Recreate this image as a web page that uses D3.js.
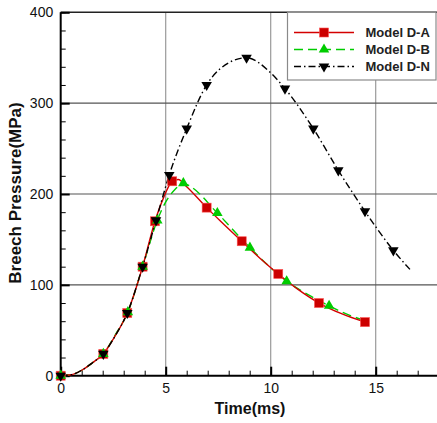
<!DOCTYPE html>
<html>
<head>
<meta charset="utf-8">
<script src="https://cdn.jsdelivr.net/npm/d3@7"></script>
<style>
  body { margin: 0; background: #fff; }
  svg { display: block; font-family: "Liberation Sans", Arial, sans-serif; }
</style>
</head>
<body>
<svg id="chart" width="437" height="423"></svg>
<script>
// Breech pressure histories for three models: [time (ms), pressure (MPa)]
const curveDA = [[0,0],[0.5,1],[1,6],[1.5,14],[2.03,24],[2.6,44],[3.17,69],[3.9,120],[4.49,170],[4.9,196],[5.31,214],[5.6,216],[6.0,208],[6.95,185],[7.8,166],[8.62,148],[9.5,129],[10.36,112],[11.3,95],[12.3,80],[13.4,68],[14.49,59]];
const curveDB = [[0,0],[0.5,1],[1,6],[1.5,14],[2.03,24],[2.6,45],[3.2,70],[3.9,120],[4.6,171],[4.97,190],[5.44,205],[5.84,212],[6.2,208],[7.46,179],[9.01,141],[10.76,104],[11.8,89],[12.78,77],[13.6,68],[14.44,61]];
const curveDN = [[0,0],[0.5,1],[1,6],[1.5,14],[2.03,24],[2.6,44],[3.17,69],[3.9,120],[4.54,171],[5.17,221],[6.0,272],[6.95,320],[7.6,338],[8.85,350],[9.97,334],[10.68,316],[12.03,272],[13.22,226],[14.49,181],[15.84,138],[16.63,117]];

// Symbol positions along each curve
const markDA = [[0,0],[2.03,24],[3.17,69],[3.9,120],[4.49,170],[5.31,214],[6.95,185],[8.62,148],[10.36,112],[12.3,80],[14.49,59]];
const markDB = [[0,0],[2.03,24],[3.2,70],[3.9,120],[4.6,171],[5.84,212],[7.46,179],[9.01,141],[10.76,104],[12.78,77]];
const markDN = [[0,0],[2.03,24],[3.17,69],[3.9,120],[4.54,171],[5.17,221],[6.0,272],[6.95,320],[8.85,350],[10.68,316],[12.03,272],[13.22,226],[14.49,181],[15.84,138]];

const seriesNames = ["Model D-A", "Model D-B", "Model D-N"];
const xMajorTicks = [0, 5, 10, 15];
const yMajorTicks = [0, 100, 200, 300, 400];

const svg = d3.select("#chart");
const plotL = 60.7, plotR = 438.7, plotT = 12.3, plotB = 375.7;

const x = d3.scaleLinear().domain([0, 18]).range([plotL, plotR]);
const y = d3.scaleLinear().domain([0, 400]).range([plotB, plotT]);

// grid
svg.append("g").selectAll("line").data(xMajorTicks.filter(d => d > 0)).join("line")
  .attr("x1", d => x(d)).attr("x2", d => x(d)).attr("y1", plotT).attr("y2", plotB)
  .attr("stroke", "#9a9a9a").attr("stroke-width", 1.2);
svg.append("g").selectAll("line").data(yMajorTicks.filter(d => d > 0 && d < 400)).join("line")
  .attr("x1", plotL).attr("x2", plotR).attr("y1", d => y(d)).attr("y2", d => y(d))
  .attr("stroke", "#555").attr("stroke-width", 1.1);

// top frame
svg.append("line").attr("x1", plotL).attr("x2", plotR).attr("y1", plotT).attr("y2", plotT)
  .attr("stroke", "#222").attr("stroke-width", 1.5);

// axes with inward ticks
const xAxisMinor = d3.axisBottom(x).tickValues(d3.range(0, 19, 1)).tickSize(-5).tickFormat("");
const xAxisMajor = d3.axisBottom(x).tickValues(xMajorTicks).tickSize(-9).tickPadding(16).tickFormat(d3.format("d"));
const yAxisMinor = d3.axisLeft(y).tickValues(d3.range(0, 401, 20)).tickSize(-5).tickFormat("");
const yAxisMajor = d3.axisLeft(y).tickValues(yMajorTicks).tickSize(-9).tickPadding(16).tickFormat(d3.format("d"));

function styleAxis(g, w) {
  g.select(".domain").remove();
  g.selectAll(".tick line").attr("stroke", "#000").attr("stroke-width", w);
  g.selectAll(".tick text").attr("fill", "#111").style("font-size", "14px")
    .style("font-family", "'Liberation Sans', Arial, sans-serif");
}
svg.append("g").attr("transform", `translate(0,${plotB})`).call(xAxisMinor).call(g => styleAxis(g, 1));
svg.append("g").attr("transform", `translate(0,${plotB})`).call(xAxisMajor).call(g => styleAxis(g, 2))
  .selectAll(".tick text").attr("y", 7).attr("dy", "0.71em");
svg.append("g").attr("transform", `translate(${plotL},0)`).call(yAxisMinor).call(g => styleAxis(g, 1));
svg.append("g").attr("transform", `translate(${plotL},0)`).call(yAxisMajor).call(g => styleAxis(g, 2))
  .selectAll(".tick text").attr("x", -7.5);

// axis lines
svg.append("line").attr("x1", plotL).attr("x2", plotR).attr("y1", plotB).attr("y2", plotB)
  .attr("stroke", "#000").attr("stroke-width", 2);
svg.append("line").attr("x1", plotL).attr("x2", plotL).attr("y1", plotT).attr("y2", plotB)
  .attr("stroke", "#000").attr("stroke-width", 2);

// series styles
const styles = [
  { curve: curveDA, marks: markDA, color: "#d40000", fill: "#cc0000", dash: null, sym: "square" },
  { curve: curveDB, marks: markDB, color: "#00cc00", fill: "#00cc00", dash: "9,5", sym: "up" },
  { curve: curveDN, marks: markDN, color: "#000", fill: "#000", dash: "7,3,1.5,3", sym: "down" }
];

const line = d3.line().x(d => x(d[0])).y(d => y(d[1])).curve(d3.curveMonotoneX);

function drawSymbol(g, type, cx, cy, s) {
  if (type === "square") {
    g.append("rect").attr("x", cx - 4.5).attr("y", cy - 4.5).attr("width", 9).attr("height", 9)
      .attr("fill", s.fill).attr("stroke", "#ff5050").attr("stroke-width", 0.6);
  } else {
    const path = d3.symbol().type(d3.symbolTriangle).size(48)();
    g.append("path").attr("d", path)
      .attr("transform", `translate(${cx},${cy}) rotate(${type === "down" ? 180 : 0})`)
      .attr("fill", s.fill);
  }
}

// lines: green underneath, then red, black dash-dot on top
[1, 0, 2].forEach(i => {
  const s = styles[i];
  svg.append("path").datum(s.curve).attr("d", line)
    .attr("fill", "none").attr("stroke", s.color).attr("stroke-width", 1.4)
    .attr("stroke-dasharray", s.dash);
});
// symbols: squares first, then up triangles, down triangles on top
[0, 1, 2].forEach(i => {
  const s = styles[i];
  const g = svg.append("g");
  s.marks.forEach(d => drawSymbol(g, s.sym, x(d[0]), y(d[1]), s));
});

// legend
const lg = svg.append("g");
lg.append("rect").attr("x", 287.5).attr("y", 12.3).attr("width", 148.5).attr("height", 67.7)
  .attr("fill", "#fff").attr("stroke", "#8a8a8a").attr("stroke-width", 1.2);
seriesNames.forEach((name, i) => {
  const s = styles[i];
  const ly = 32.5 + i * 17;
  lg.append("line").attr("x1", 294).attr("x2", 354).attr("y1", ly).attr("y2", ly)
    .attr("stroke", s.color).attr("stroke-width", 1.4).attr("stroke-dasharray", s.dash);
  drawSymbol(lg, s.sym, 324, ly, s);
  lg.append("text").attr("x", 365.5).attr("y", ly).attr("dy", "0.36em")
    .style("font-size", "13px").style("font-weight", "bold").attr("fill", "#222").text(name);
});

// axis titles
svg.append("text").attr("x", 250).attr("y", 414).attr("text-anchor", "middle")
  .style("font-size", "16px").style("font-weight", "bold").attr("fill", "#111").text("Time(ms)");
svg.append("text").attr("transform", "translate(20.5,193) rotate(-90)").attr("text-anchor", "middle")
  .style("font-size", "17px").style("font-weight", "bold").attr("fill", "#111").text("Breech Pressure(MPa)");
</script>
</body>
</html>
